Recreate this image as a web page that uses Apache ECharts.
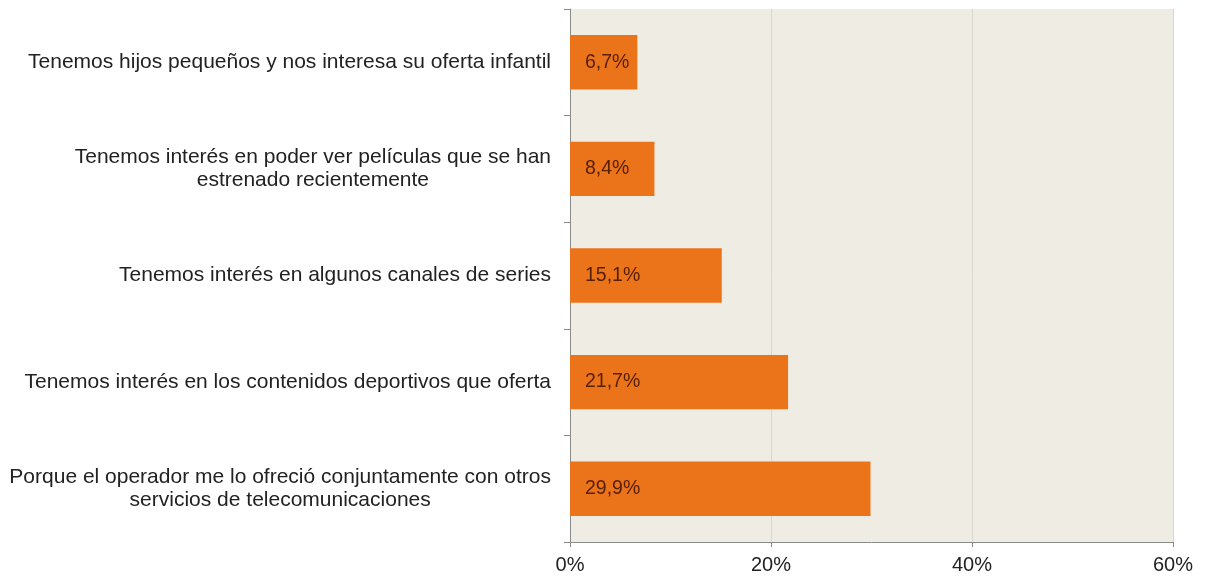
<!DOCTYPE html>
<html>
<head>
<meta charset="utf-8">
<script src="https://cdn.jsdelivr.net/npm/echarts@6/dist/echarts.min.js"></script>
<style>
  html, body { margin: 0; padding: 0; background: #ffffff; }
  #chart { width: 1206px; height: 579px; }
</style>
</head>
<body>
<div id="chart"></div>
<script>
// Reasons for subscribing, listed top to bottom
const categories = [
  'Tenemos hijos pequeños y nos interesa su oferta infantil',
  'Tenemos interés en poder ver películas que se han\nestrenado recientemente',
  'Tenemos interés en algunos canales de series',
  'Tenemos interés en los contenidos deportivos que oferta',
  'Porque el operador me lo ofreció conjuntamente con otros\nservicios de telecomunicaciones'
];
// Share of respondents, in percent
const shares = [6.7, 8.4, 15.1, 21.7, 29.9];
// Horizontal axis range and step, in percent
const axisMin = 0;
const axisMax = 60;
const axisStep = 20;

const chart = echarts.init(document.getElementById('chart'), null, { renderer: 'canvas' });

const fontFamily = 'Liberation Sans, Arial, sans-serif';

chart.setOption({
  animation: false,
  grid: {
    left: 570,
    right: 33,
    top: 9,
    bottom: 37,
    show: true,
    backgroundColor: '#efece4',
    borderWidth: 0
  },
  xAxis: {
    type: 'value',
    min: axisMin,
    max: axisMax,
    interval: axisStep,
    axisLine: { show: true, lineStyle: { color: '#8a8a8a', width: 1 } },
    axisTick: { show: true, length: 5, lineStyle: { color: '#8a8a8a' } },
    splitLine: { show: true, lineStyle: { color: '#d9d6ce', width: 1 } },
    axisLabel: {
      color: '#222',
      fontFamily: fontFamily,
      fontSize: 20,
      margin: 13,
      formatter: v => v + '%'
    }
  },
  yAxis: {
    type: 'category',
    data: categories,
    inverse: true,
    axisLine: { show: true, lineStyle: { color: '#8a8a8a', width: 1 } },
    axisTick: { show: true, length: 6, lineStyle: { color: '#8a8a8a' } },
    axisLabel: {
      margin: 19,
      align: 'right',
      // each line is centred within the label block
      formatter: v => v.split('\n').map(line => '{c|' + line + '}').join('\n'),
      rich: {
        c: {
          color: '#222',
          fontFamily: fontFamily,
          fontSize: 21,
          lineHeight: 23,
          align: 'center'
        }
      }
    }
  },
  series: [{
    type: 'bar',
    data: shares,
    barWidth: '51%',
    itemStyle: { color: '#eb7319' },
    label: {
      show: true,
      position: 'insideLeft',
      distance: 15,
      color: '#551f06',
      fontFamily: fontFamily,
      fontSize: 19.5,
      formatter: p => String(p.value).replace('.', ',') + '%'
    }
  }]
});
</script>
</body>
</html>
